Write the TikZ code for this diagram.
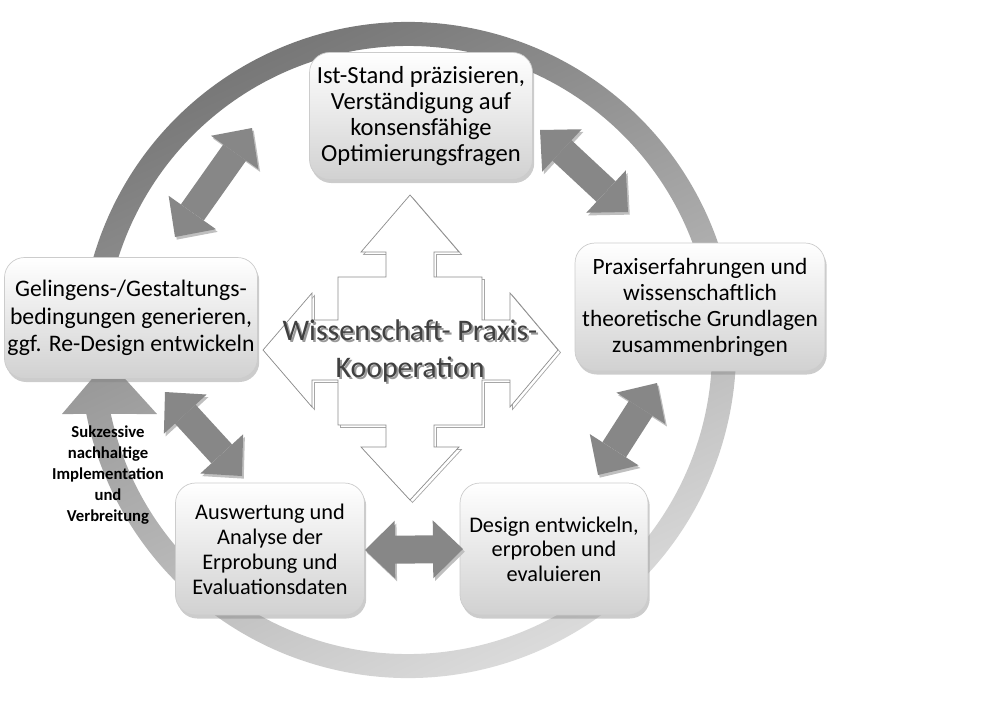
\documentclass[tikz,border=0pt]{standalone}
\usepackage{fontspec}
\setmainfont{Carlito}
\usetikzlibrary{calc,arrows.meta,shadows}
\definecolor{pfeilgrau}{gray}{0.53}
\definecolor{textgrau}{gray}{0.25}
\tikzset{px/.style={x={(0.02cm,0cm)},y={(0cm,-0.02cm)}}}
\tikzset{stufe/.style={rounded corners=0.4cm, draw=black!20, top color=white, middle color=white, bottom color=black!18,
	align=center, inner sep=0pt, font=\fontsize{14}{14.8}\selectfont,
	drop shadow={shadow xshift=1pt, shadow yshift=-2pt, opacity=0.4}}}
\tikzset{duo/.style={line width=0.56cm, draw=pfeilgrau,
	{Triangle[length=0.6cm, width=1.16cm, line width=0pt]}-{Triangle[length=0.6cm, width=1.16cm, line width=0pt]},
	preaction={draw=black!25, transform canvas={xshift=1pt, yshift=-1.5pt}}}}
% Umriss des Kreuzpfeils in der Mitte
\newcommand\kreuzpfeil{(0,-155) -- (49,-98) -- (24,-98) -- (24,-73) -- (72,-73) -- (72,-30)
	-- (100,-30) -- (100,-57) -- (148,0) -- (100,57) -- (100,30) -- (72,30) -- (72,75)
	-- (24,75) -- (24,97) -- (49,97) -- (0,150) -- (-49,97) -- (-24,97) -- (-24,75)
	-- (-72,75) -- (-72,30) -- (-98,30) -- (-98,57) -- (-147,0) -- (-98,-57) -- (-98,-30)
	-- (-72,-30) -- (-72,-73) -- (-24,-73) -- (-24,-98) -- (-49,-98) -- cycle}

\begin{document}
\begin{tikzpicture}[px]
	\useasboundingbox (0,0) rectangle (1000,700);
	% der grosse Kreispfeil
	\coordinate (ctr) at (408,350);
	\shade[top color=black!55, bottom color=black!12, shading angle=25]
		($(ctr)+(195:328)$) arc[start angle=195, end angle=528.75, radius=328]
		-- (62,414) -- (108,360) -- (157,414)
		-- ($(ctr)+(527.85:304)$) arc[start angle=527.85, end angle=195, radius=304] -- cycle;
	% Kreuzpfeil mit Schatten
	\begin{scope}[shift={(410,350)}]
		\draw[black!35, shift={(2.5,2.5)}] \kreuzpfeil;
		\filldraw[fill=white, draw=black!45] \kreuzpfeil;
	\end{scope}
	\node[font=\fontsize{17}{21}\selectfont, text=black!40, align=center] (koopschatten) at (412,353) {Wissenschaft- Praxis-\\Kooperation};
	\node[font=\fontsize{17}{21}\selectfont, text=textgrau, align=center] (koop) at (410,351) {Wissenschaft- Praxis-\\Kooperation};
	% die fuenf Stufen
	\node[stufe, minimum width=4.46cm, minimum height=2.54cm] (ist) at (421,116) {Ist-Stand präzisieren,\\Verständigung auf\\konsensfähige\\Optimierungsfragen};
	\node[stufe, minimum width=5cm, minimum height=2.56cm, font=\fontsize{13.3}{14.8}\selectfont] (praxis) at (700,307) {Praxiserfahrungen und\\wissenschaftlich\\theoretische Grundlagen\\zusammenbringen};
	\node[stufe, minimum width=3.76cm, minimum height=2.64cm, font=\fontsize{12.7}{14}\selectfont] (design) at (554,549) {Design entwickeln,\\erproben und\\evaluieren};
	\node[stufe, minimum width=3.78cm, minimum height=2.64cm, font=\fontsize{12.7}{14.2}\selectfont] (auswertung) at (270,549) {Auswertung und\\Analyse der\\Erprobung und\\Evaluationsdaten};
	\node[stufe, minimum width=5.06cm, minimum height=2.42cm, font=\fontsize{13.5}{15.5}\selectfont] (gelingen) at (131,318) {Gelingens-/Gestaltungs-\\bedingungen generieren,\\ggf. Re-Design entwickeln};
	% Doppelpfeile zwischen den Stufen
	\coordinate (gel-a) at (175,237);
	\coordinate (ist-a) at (252,128);
	\coordinate (ist-b) at (540,130);
	\coordinate (pra-b) at (628,212);
	\coordinate (pra-c) at (657,383);
	\coordinate (des-c) at (598,475);
	\coordinate (des-d) at (463,549);
	\coordinate (aus-d) at (365,550);
	\coordinate (aus-e) at (242,476);
	\coordinate (gel-e) at (165,392);
	\draw[duo] (gel-a) -- (ist-a);
	\draw[duo] (ist-b) -- (pra-b);
	\draw[duo] (pra-c) -- (des-c);
	\draw[duo] (des-d) -- (aus-d);
	\draw[duo] (aus-e) -- (gel-e);
	% Beschriftung am Kreispfeil
	\node[font=\bfseries\fontsize{9.5}{11.9}\selectfont, align=center] (impl) at (108,475) {Sukzessive\\nachhaltige\\Implementation\\und\\Verbreitung};
\end{tikzpicture}
\end{document}
